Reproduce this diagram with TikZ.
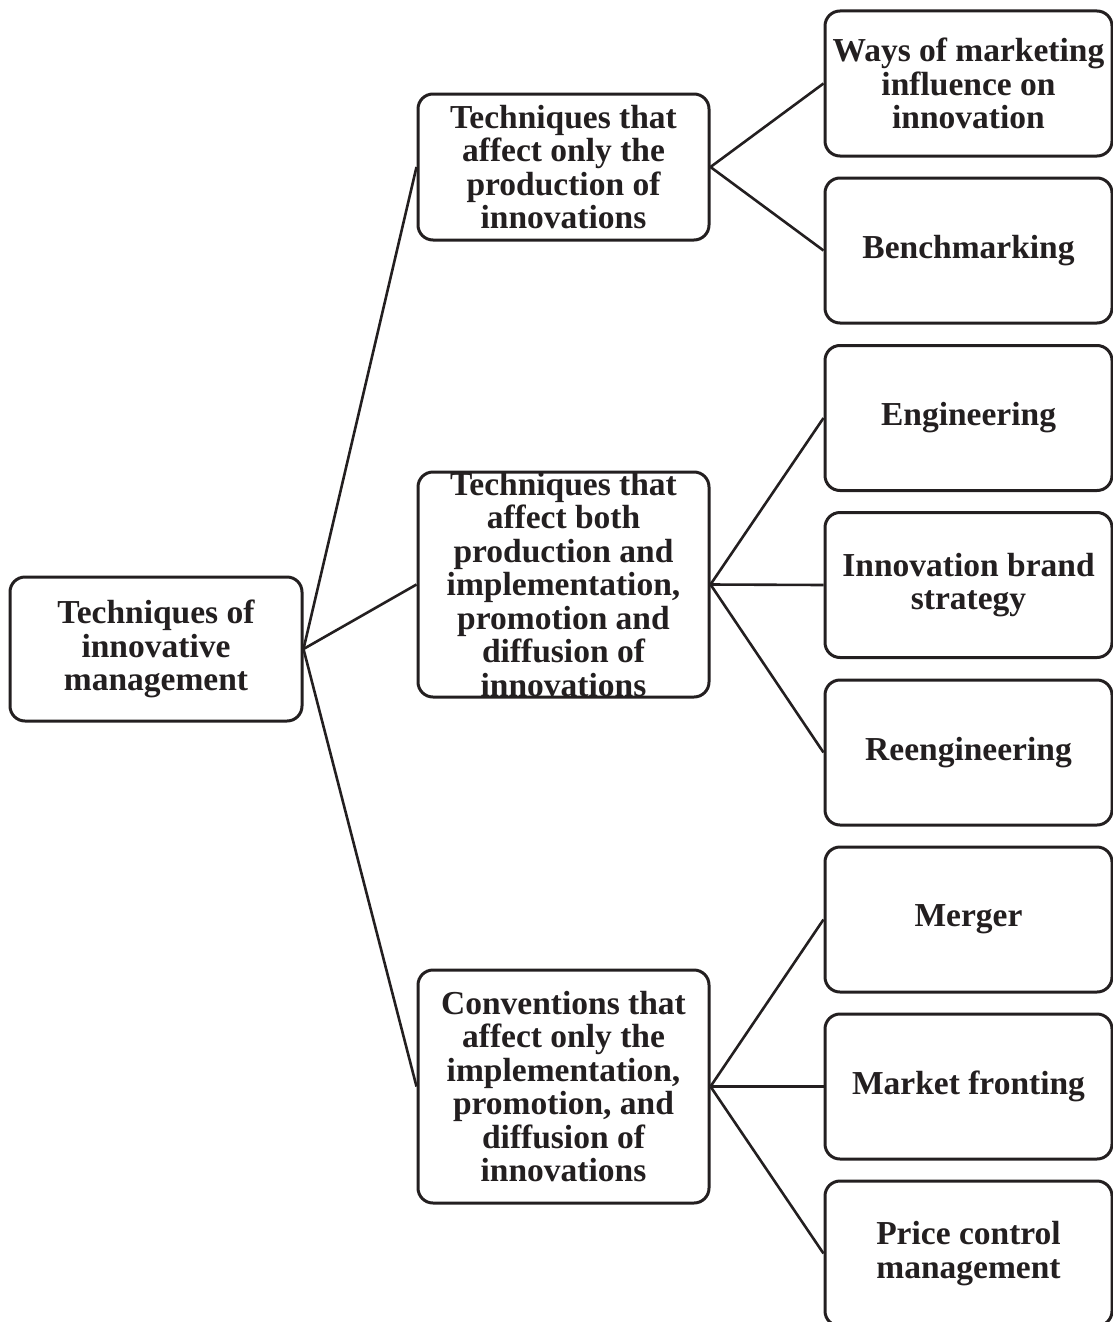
\documentclass[tikz,border=0pt]{standalone}
\usepackage{fontspec}
\setmainfont{Liberation Serif}
\definecolor{ink}{HTML}{231F20}
\begin{document}
\begin{tikzpicture}[x=1pt,y=-1pt,
  box/.style={draw=ink,line width=3pt,rounded corners=15pt,minimum width=#1,inner sep=0pt},
  rootbox/.style={box=292pt,minimum height=144pt},
  midbox/.style={box=291pt},
  leafbox/.style={box=287pt,minimum height=145pt},
  txt/.style={text=ink,align=center,font=\fontsize{33.5}{33.5}\selectfont\bfseries,inner sep=0pt},
  link/.style={draw=ink,line width=2.6pt}]
\useasboundingbox (0,0) rectangle (1113,1322);
\clip (0,0) rectangle (1113,1322);

% root
\node[rootbox] (root) at (156,649) {};
\node[txt] at (root) {Techniques of\\innovative\\management};

% middle level
\node[midbox,minimum height=146pt] (m1) at (563.5,167) {};
\node[txt] at (m1) {Techniques that\\affect only the\\production of\\innovations};
\node[midbox,minimum height=225pt] (m2) at (563.5,584.5) {};
\node[txt] at (m2) {Techniques that\\affect both\\production and\\implementation,\\promotion and\\diffusion of\\innovations};
\node[midbox,minimum height=233pt] (m3) at (563.5,1086.5) {};
\node[txt] at (m3) {Conventions that\\affect only the\\implementation,\\promotion, and\\diffusion of\\innovations};

% leaves
\node[leafbox] (r1) at (968.5,83.5) {};
\node[txt] at (r1) {Ways of marketing\\influence on\\innovation};
\node[leafbox] (r2) at (968.5,250.5) {};
\node[txt] at (r2) {Benchmarking};
\node[leafbox] (r3) at (968.5,418) {};
\node[txt] at (r3) {Engineering};
\node[leafbox] (r4) at (968.5,585) {};
\node[txt] at (r4) {Innovation brand\\strategy};
\node[leafbox] (r5) at (968.5,752.5) {};
\node[txt] at (r5) {Reengineering};
\node[leafbox] (r6) at (968.5,919.5) {};
\node[txt] at (r6) {Merger};
\node[leafbox] (r7) at (968.5,1086.5) {};
\node[txt] at (r7) {Market fronting};
\node[leafbox] (r8) at (968.5,1253.5) {};
\node[txt] at (r8) {Price control\\management};

% connectors
\foreach \m in {m1,m2,m3} \draw[link] (root.east) -- (\m.west);
\foreach \r in {r1,r2} \draw[link] (m1.east) -- (\r.west);
\foreach \r in {r3,r4,r5} \draw[link] (m2.east) -- (\r.west);
\foreach \r in {r6,r7,r8} \draw[link] (m3.east) -- (\r.west);
\end{tikzpicture}
\end{document}
